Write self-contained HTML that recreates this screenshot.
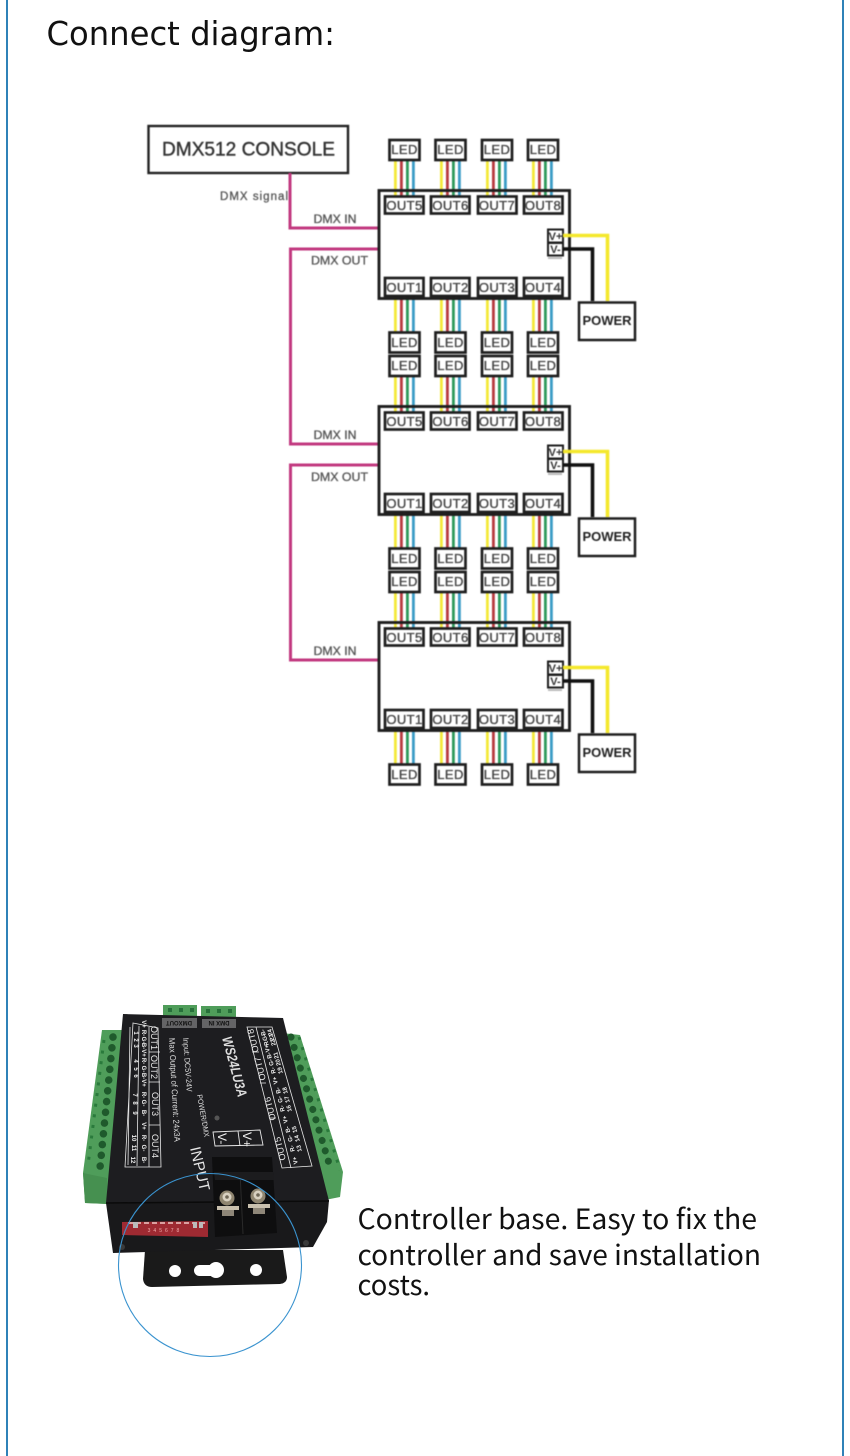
<!DOCTYPE html>
<html><head><meta charset="utf-8"><title>Connect diagram</title>
<style>
html,body{margin:0;padding:0;background:#fff;width:850px;height:1456px;overflow:hidden}
svg{display:block;position:absolute;left:0;top:0}
.soft{filter:blur(.55px)}
.dev{filter:blur(.35px)}
.lb{font-family:"Liberation Sans",sans-serif;fill:#444;stroke:#444;stroke-width:.35px;text-anchor:middle;font-size:13px;letter-spacing:.4px}
.p{font-family:"Liberation Sans",sans-serif;font-weight:bold;fill:#222;text-anchor:middle;font-size:13px}
.s{font-family:"Liberation Sans",sans-serif;fill:#555;stroke:#555;stroke-width:.3px;text-anchor:middle;font-size:11.5px}
.v{font-family:"Liberation Sans",sans-serif;font-weight:bold;fill:#333;text-anchor:middle;font-size:11px}
.w{font-family:"Liberation Sans",sans-serif;fill:#eee;text-anchor:middle;font-size:6px;font-weight:bold}
.o{font-family:"Liberation Sans",sans-serif;fill:#e8e8e8;text-anchor:middle;font-size:9px}
.t{font-family:"Noto Sans CJK JP","Liberation Sans",sans-serif;fill:#111;font-size:28px}
</style></head>
<body>
<svg width="850" height="1456" viewBox="0 0 850 1456" xmlns="http://www.w3.org/2000/svg">
<defs>
<g id="wires">
  <rect x="0" y="0" width="2.8" height="36" fill="#f4e93a"/>
  <rect x="6" y="0" width="2.8" height="36" fill="#b83b40"/>
  <rect x="12" y="0" width="2.8" height="36" fill="#2f9a5c"/>
  <rect x="18" y="0" width="2.8" height="36" fill="#3b9cc6"/>
</g>
<g id="module" fill="none" stroke="#1e1e1e">
  <use href="#wires" x="394" y="160" stroke="none"/><use href="#wires" x="440" y="160" stroke="none"/><use href="#wires" x="486" y="160" stroke="none"/><use href="#wires" x="532" y="160" stroke="none"/>
  <use href="#wires" x="394" y="296" stroke="none"/><use href="#wires" x="440" y="296" stroke="none"/><use href="#wires" x="486" y="296" stroke="none"/><use href="#wires" x="532" y="296" stroke="none"/>
  <rect x="379" y="190.500" width="190.500" height="108" stroke-width="2.900"/>
  <g stroke-width="2.700" fill="#fff">
    <rect x="385" y="196.500" width="38.500" height="17"/><rect x="431" y="196.500" width="38.500" height="17"/><rect x="478" y="196.500" width="38.500" height="17"/><rect x="524" y="196.500" width="38.500" height="17"/>
    <rect x="385" y="278" width="38.500" height="18"/><rect x="431" y="278" width="38.500" height="18"/><rect x="478" y="278" width="38.500" height="18"/><rect x="524" y="278" width="38.500" height="18"/>
    <rect x="389.500" y="140" width="30" height="20"/><rect x="435.500" y="140" width="30" height="20"/><rect x="482" y="140" width="30" height="20"/><rect x="528" y="140" width="30" height="20"/>
    <rect x="389.500" y="332.500" width="30" height="20"/><rect x="435.500" y="332.500" width="30" height="20"/><rect x="482" y="332.500" width="30" height="20"/><rect x="528" y="332.500" width="30" height="20"/>
  </g>
  <g stroke-width="2" fill="#fff"><rect x="548" y="229.500" width="15" height="13"/><rect x="548" y="243" width="15" height="12.500"/></g>
  <path d="M563 235.500H607.500V301" stroke="#f4e82c" stroke-width="3.600"/>
  <path d="M563 249H592.500V301" stroke="#111" stroke-width="3.600"/>
  <rect x="579" y="302.500" width="56" height="37.500" stroke-width="2.500" fill="#fff"/>
  <rect x="548" y="257" width="14" height="2" fill="#bbb" stroke="none"/>
</g>
</defs>

<rect x="6" y="0" width="2" height="1456" fill="#2f82b8"/>
<rect x="842" y="0" width="2" height="1456" fill="#2f82b8"/>

<text x="46.500" y="45" textLength="288.500" lengthAdjust="spacingAndGlyphs" style="font-family:'DejaVu Sans',sans-serif;font-size:33px;fill:#111">Connect diagram:</text>

<g class="soft">
  <rect x="148.500" y="126" width="199.500" height="47" fill="#fff" stroke="#222" stroke-width="2.400"/>
  <text x="248.500" y="155.500" textLength="173" lengthAdjust="spacingAndGlyphs" style="font-family:'Liberation Sans',sans-serif;font-size:19px;fill:#333;stroke:#333;stroke-width:.4px;text-anchor:middle">DMX512 CONSOLE</text>
  <path d="M290 173V228H379M379 249H290.500V444H379M379 465H290.500V660H379" fill="none" stroke="#c2387f" stroke-width="3"/>
  <text class="s" x="254" y="200" textLength="68" lengthAdjust="spacing">DMX signal</text>

  <use href="#module"/>
  <use href="#module" y="216"/>
  <use href="#module" y="432"/>

  <text class="s" x="335" y="223" textLength="43" lengthAdjust="spacingAndGlyphs">DMX IN</text><text class="s" x="339.500" y="264.500" textLength="57" lengthAdjust="spacingAndGlyphs">DMX OUT</text>
  <text class="s" x="335" y="439" textLength="43" lengthAdjust="spacingAndGlyphs">DMX IN</text><text class="s" x="339.500" y="481" textLength="57" lengthAdjust="spacingAndGlyphs">DMX OUT</text>
  <text class="s" x="335" y="655" textLength="43" lengthAdjust="spacingAndGlyphs">DMX IN</text>

  <g class="lb">
    <text x="404.500" y="154">LED</text><text x="450.500" y="154">LED</text><text x="497" y="154">LED</text><text x="543" y="154">LED</text>
    <text x="404.500" y="210">OUT5</text><text x="450.500" y="210">OUT6</text><text x="497" y="210">OUT7</text><text x="543" y="210">OUT8</text>
    <text x="404.500" y="292">OUT1</text><text x="450.500" y="292">OUT2</text><text x="497" y="292">OUT3</text><text x="543" y="292">OUT4</text>
    <text x="404.500" y="347">LED</text><text x="450.500" y="347">LED</text><text x="497" y="347">LED</text><text x="543" y="347">LED</text>

    <text x="404.500" y="370">LED</text><text x="450.500" y="370">LED</text><text x="497" y="370">LED</text><text x="543" y="370">LED</text>
    <text x="404.500" y="426">OUT5</text><text x="450.500" y="426">OUT6</text><text x="497" y="426">OUT7</text><text x="543" y="426">OUT8</text>
    <text x="404.500" y="508">OUT1</text><text x="450.500" y="508">OUT2</text><text x="497" y="508">OUT3</text><text x="543" y="508">OUT4</text>
    <text x="404.500" y="563">LED</text><text x="450.500" y="563">LED</text><text x="497" y="563">LED</text><text x="543" y="563">LED</text>

    <text x="404.500" y="586">LED</text><text x="450.500" y="586">LED</text><text x="497" y="586">LED</text><text x="543" y="586">LED</text>
    <text x="404.500" y="642">OUT5</text><text x="450.500" y="642">OUT6</text><text x="497" y="642">OUT7</text><text x="543" y="642">OUT8</text>
    <text x="404.500" y="724">OUT1</text><text x="450.500" y="724">OUT2</text><text x="497" y="724">OUT3</text><text x="543" y="724">OUT4</text>
    <text x="404.500" y="779">LED</text><text x="450.500" y="779">LED</text><text x="497" y="779">LED</text><text x="543" y="779">LED</text>
  </g>
  <text class="p" x="607" y="325">POWER</text><text class="p" x="607" y="541">POWER</text><text class="p" x="607" y="757">POWER</text>
  <text class="v" x="555.500" y="240">V+</text><text class="v" x="555.500" y="253">V-</text>
  <text class="v" x="555.500" y="456">V+</text><text class="v" x="555.500" y="469">V-</text>
  <text class="v" x="555.500" y="672">V+</text><text class="v" x="555.500" y="685">V-</text>
</g>

<g class="dev">
  <!-- top connectors -->
  <rect x="163" y="1005" width="34" height="12" fill="#4f9d5a"/>
  <rect x="201" y="1006" width="35" height="12" fill="#4f9d5a"/>
  <path d="M168 1010H194M206 1011H233" stroke="#27703a" stroke-width="4" stroke-dasharray="4 7"/>
  <!-- green strips -->
  <polygon points="102,1030 124,1030 110,1204 85,1203 83,1173" fill="#4f9d5a"/>
  <polygon points="83,1173 107,1178 107,1204 85,1203" fill="#469050"/>
  <polygon points="282,1033 300,1035 343,1172 340,1197 325,1200" fill="#4f9d5a"/>
  <path d="M113 1037L100 1168" stroke="#1f5a2c" stroke-width="7.500" stroke-linecap="round" stroke-dasharray="0.100 10.700" fill="none"/>
  <path d="M104 1040L88 1165" stroke="#2a7a3c" stroke-width="3" stroke-dasharray="3 7.700" fill="none"/>
  <path d="M291 1037L331 1170" stroke="#1f5a2c" stroke-width="7" stroke-linecap="round" stroke-dasharray="0.100 10.700" fill="none"/>
  <path d="M299 1037L340 1170" stroke="#2a7a3c" stroke-width="3" stroke-dasharray="3 7.700" fill="none"/>
  <!-- bracket -->
  <path d="M145 1250H283L287 1277Q287 1283 280 1284L152 1287Q144 1287 143 1279Z" fill="#1a1a1a"/>
  <circle cx="175" cy="1271" r="6" fill="#fff"/>
  <circle cx="256" cy="1270" r="6" fill="#fff"/>
  <rect x="194" y="1265" width="22" height="11" rx="5.500" fill="#fff"/>
  <circle cx="216" cy="1270" r="8" fill="#fff"/>
  <!-- body -->
  <polygon points="106,1203 329,1200 327,1222 313,1247 113,1253" fill="#19191b"/>
  <polygon points="123,1014 283,1018 329,1201 106,1203" fill="#1d1d20"/>
  <line x1="106" y1="1203" x2="329" y2="1201" stroke="#0a0a0a" stroke-width="1.500"/>
  <circle cx="122" cy="1247" r="3" fill="#3a3a3a"/><circle cx="306" cy="1243" r="3" fill="#3a3a3a"/>
  <!-- DMX labels -->
  <rect x="162" y="1018" width="35" height="10" fill="#cfcfcf" opacity=".4"/>
  <rect x="202" y="1019" width="34" height="9" fill="#cfcfcf" opacity=".4"/>
  <text class="w" transform="translate(179,1021) rotate(180)" style="fill:#111">DMXOUT</text>
  <text class="w" transform="translate(219,1021) rotate(180)" style="fill:#111">DMX IN</text>
  <!-- left table -->
  <g fill="none" stroke="#e8e8e8" stroke-width=".8">
    <polygon points="133,1023 158,1028 161,1167 125,1167"/>
    <path d="M130,1027L128,1165M139,1026L137,1166M149,1027L149,1167M149,1052H160M149,1082H160M149,1125H160"/>
  </g>
  <g class="w">
    <text transform="translate(142,1024) rotate(90)">V+</text><text transform="translate(142,1033) rotate(90)">R-</text><text transform="translate(142,1040) rotate(90)">G-</text><text transform="translate(142,1046) rotate(90)">B-</text>
    <text transform="translate(142,1053) rotate(90)">V+</text><text transform="translate(142,1061) rotate(90)">R-</text><text transform="translate(142,1069) rotate(90)">G-</text><text transform="translate(142,1076) rotate(90)">B-</text>
    <text transform="translate(142,1083) rotate(90)">V+</text><text transform="translate(142,1095) rotate(90)">R-</text><text transform="translate(142,1103) rotate(90)">G-</text><text transform="translate(142,1113) rotate(90)">B-</text>
    <text transform="translate(142,1126) rotate(90)">V+</text><text transform="translate(142,1138) rotate(90)">R-</text><text transform="translate(142,1148) rotate(90)">G-</text><text transform="translate(142,1160) rotate(90)">B-</text>
    <text transform="translate(134,1033) rotate(90)">1</text><text transform="translate(134,1040) rotate(90)">2</text><text transform="translate(134,1046) rotate(90)">3</text>
    <text transform="translate(134,1061) rotate(90)">4</text><text transform="translate(134,1069) rotate(90)">5</text><text transform="translate(134,1076) rotate(90)">6</text>
    <text transform="translate(133,1095) rotate(90)">7</text><text transform="translate(133,1103) rotate(90)">8</text><text transform="translate(133,1113) rotate(90)">9</text>
    <text transform="translate(132,1138) rotate(90)">10</text><text transform="translate(132,1148) rotate(90)">11</text><text transform="translate(131,1160) rotate(90)">12</text>
  </g>
  <g class="o">
    <text transform="translate(151,1038) rotate(90)">OUT1</text><text transform="translate(151,1067) rotate(90)">OUT2</text><text transform="translate(152,1104) rotate(90)">OUT3</text><text transform="translate(152,1146) rotate(90)">OUT4</text>
  </g>
  <!-- right table -->
  <g fill="none" stroke="#e8e8e8" stroke-width=".8">
    <polygon points="247,1027 272,1027 312,1166 282,1168"/>
    <path d="M256,1027L291,1168M252,1052H259M260,1083H266M269,1118H276"/>
  </g>
  <g class="o">
    <text transform="translate(256,1040) rotate(-104)">OUT8</text><text transform="translate(263,1068) rotate(-104)">OUT7</text><text transform="translate(273,1108) rotate(-104)">OUT6</text><text transform="translate(283,1148) rotate(-104)">OUT5</text>
  </g>
  <g class="w">
    <text transform="translate(297,1160) rotate(-104)">V+</text><text transform="translate(294,1148) rotate(-104)">R-</text><text transform="translate(292,1138) rotate(-104)">G-</text><text transform="translate(289.500,1129) rotate(-104)">B-</text>
    <text transform="translate(287,1119) rotate(-104)">V+</text><text transform="translate(284,1108) rotate(-104)">R-</text><text transform="translate(282,1099) rotate(-104)">G-</text><text transform="translate(280,1090) rotate(-104)">B-</text>
    <text transform="translate(277,1080) rotate(-104)">V+</text><text transform="translate(275,1070) rotate(-104)">R-</text><text transform="translate(273,1062) rotate(-104)">G-</text><text transform="translate(271,1055) rotate(-104)">B-</text>
    <text transform="translate(269,1048) rotate(-104)">V+</text><text transform="translate(268,1042) rotate(-104)">R-</text><text transform="translate(266.500,1037) rotate(-104)">G-</text><text transform="translate(265,1032) rotate(-104)">B-</text>
    <text transform="translate(301,1148) rotate(-104)">13</text><text transform="translate(299,1138) rotate(-104)">14</text><text transform="translate(296.500,1129) rotate(-104)">15</text>
    <text transform="translate(291,1108) rotate(-104)">16</text><text transform="translate(289,1099) rotate(-104)">17</text><text transform="translate(287,1090) rotate(-104)">18</text>
    <text transform="translate(282,1070) rotate(-104)">19</text><text transform="translate(280,1062) rotate(-104)">20</text><text transform="translate(278,1055) rotate(-104)">21</text>
    <text transform="translate(275,1042) rotate(-104)">22</text><text transform="translate(273.500,1037) rotate(-104)">23</text><text transform="translate(272,1032) rotate(-104)">24</text>
  </g>
  <!-- body labels -->
  <text transform="translate(222,1038) rotate(75)" textLength="62" lengthAdjust="spacingAndGlyphs" style="font-family:'Liberation Sans',sans-serif;font-weight:bold;font-style:italic;font-size:14px;fill:#ddd">WS24LU3A</text>
  <text transform="translate(183,1038) rotate(86)" textLength="54" lengthAdjust="spacingAndGlyphs" style="font-family:'Liberation Sans',sans-serif;font-size:8px;fill:#ddd">Input: DC5V-24V</text>
  <text transform="translate(169,1038) rotate(87)" textLength="104" lengthAdjust="spacingAndGlyphs" style="font-family:'Liberation Sans',sans-serif;font-size:8.500px;fill:#ddd">Max Output of Current: 24x3A</text>
  <text transform="translate(197,1095) rotate(80)" textLength="43" lengthAdjust="spacingAndGlyphs" style="font-family:'Liberation Sans',sans-serif;font-size:7.500px;fill:#ddd">POWER/DMX</text>
  <text transform="translate(190,1148) rotate(77)" textLength="45" lengthAdjust="spacingAndGlyphs" style="font-family:'Liberation Sans',sans-serif;font-size:15px;fill:#e6e6e6">INPUT</text>
  <circle cx="217" cy="1118" r="2.500" fill="#555"/>
  <g fill="none" stroke="#e8e8e8" stroke-width=".9"><polygon points="213,1132 260,1130 263,1145 215,1146"/><line x1="238" y1="1131" x2="240" y2="1146"/></g>
  <text transform="translate(243,1132) rotate(90)" style="font-family:'Liberation Sans',sans-serif;font-size:12px;fill:#eee">V+</text>
  <text transform="translate(218,1133) rotate(90)" style="font-family:'Liberation Sans',sans-serif;font-size:12px;fill:#eee">V-</text>
  <!-- DIP -->
  <polygon points="122,1222 208,1221 208,1237 122,1235" fill="#9e2a32"/>
  <path d="M128 1223H205" stroke="#dba0a0" stroke-width="2" stroke-dasharray="5 3"/>
  <rect x="133" y="1222" width="5" height="6" fill="#bbb"/><rect x="193" y="1222" width="4" height="6" fill="#bbb"/><rect x="199" y="1222" width="4" height="6" fill="#bbb"/>
  <text x="165" y="1232" style="font-family:'Liberation Sans',sans-serif;font-size:5px;fill:#eaa;text-anchor:middle" letter-spacing="3">345678</text>
  <!-- terminal -->
  <polygon points="212,1157 272,1157 277,1233 215,1237" fill="#0e0e0f"/>
  <line x1="240" y1="1172" x2="243" y2="1234" stroke="#2a2a2a" stroke-width="1"/>
  <polygon points="214,1172 273,1172 274,1180 215,1180" fill="#1c1c1e"/>
  <circle cx="227" cy="1198" r="7.500" fill="#8f8570"/><circle cx="227" cy="1197" r="4.500" fill="#d8d0c0"/><circle cx="227" cy="1197" r="1.800" fill="#6e6656"/>
  <circle cx="258" cy="1196" r="7.500" fill="#8f8570"/><circle cx="258" cy="1195" r="4.500" fill="#d8d0c0"/><circle cx="258" cy="1195" r="1.800" fill="#6e6656"/>
  <rect x="217" y="1206" width="22" height="4" fill="#c9c0ae"/><rect x="222" y="1210" width="12" height="6" fill="#8e8678"/>
  <rect x="248" y="1204" width="22" height="4" fill="#c9c0ae"/><rect x="253" y="1208" width="12" height="6" fill="#8e8678"/>
</g>
<circle cx="210" cy="1265" r="91.500" fill="none" stroke="#3a93cf" stroke-width="1.100"/>

<text class="t" x="357.500" y="1229" textLength="399.500" lengthAdjust="spacingAndGlyphs">Controller base. Easy to fix the</text>
<text class="t" x="357.500" y="1265" textLength="403.500" lengthAdjust="spacingAndGlyphs">controller and save installation</text>
<text class="t" x="357.500" y="1295" textLength="72.500" lengthAdjust="spacingAndGlyphs">costs.</text>
</svg>
</body></html>
